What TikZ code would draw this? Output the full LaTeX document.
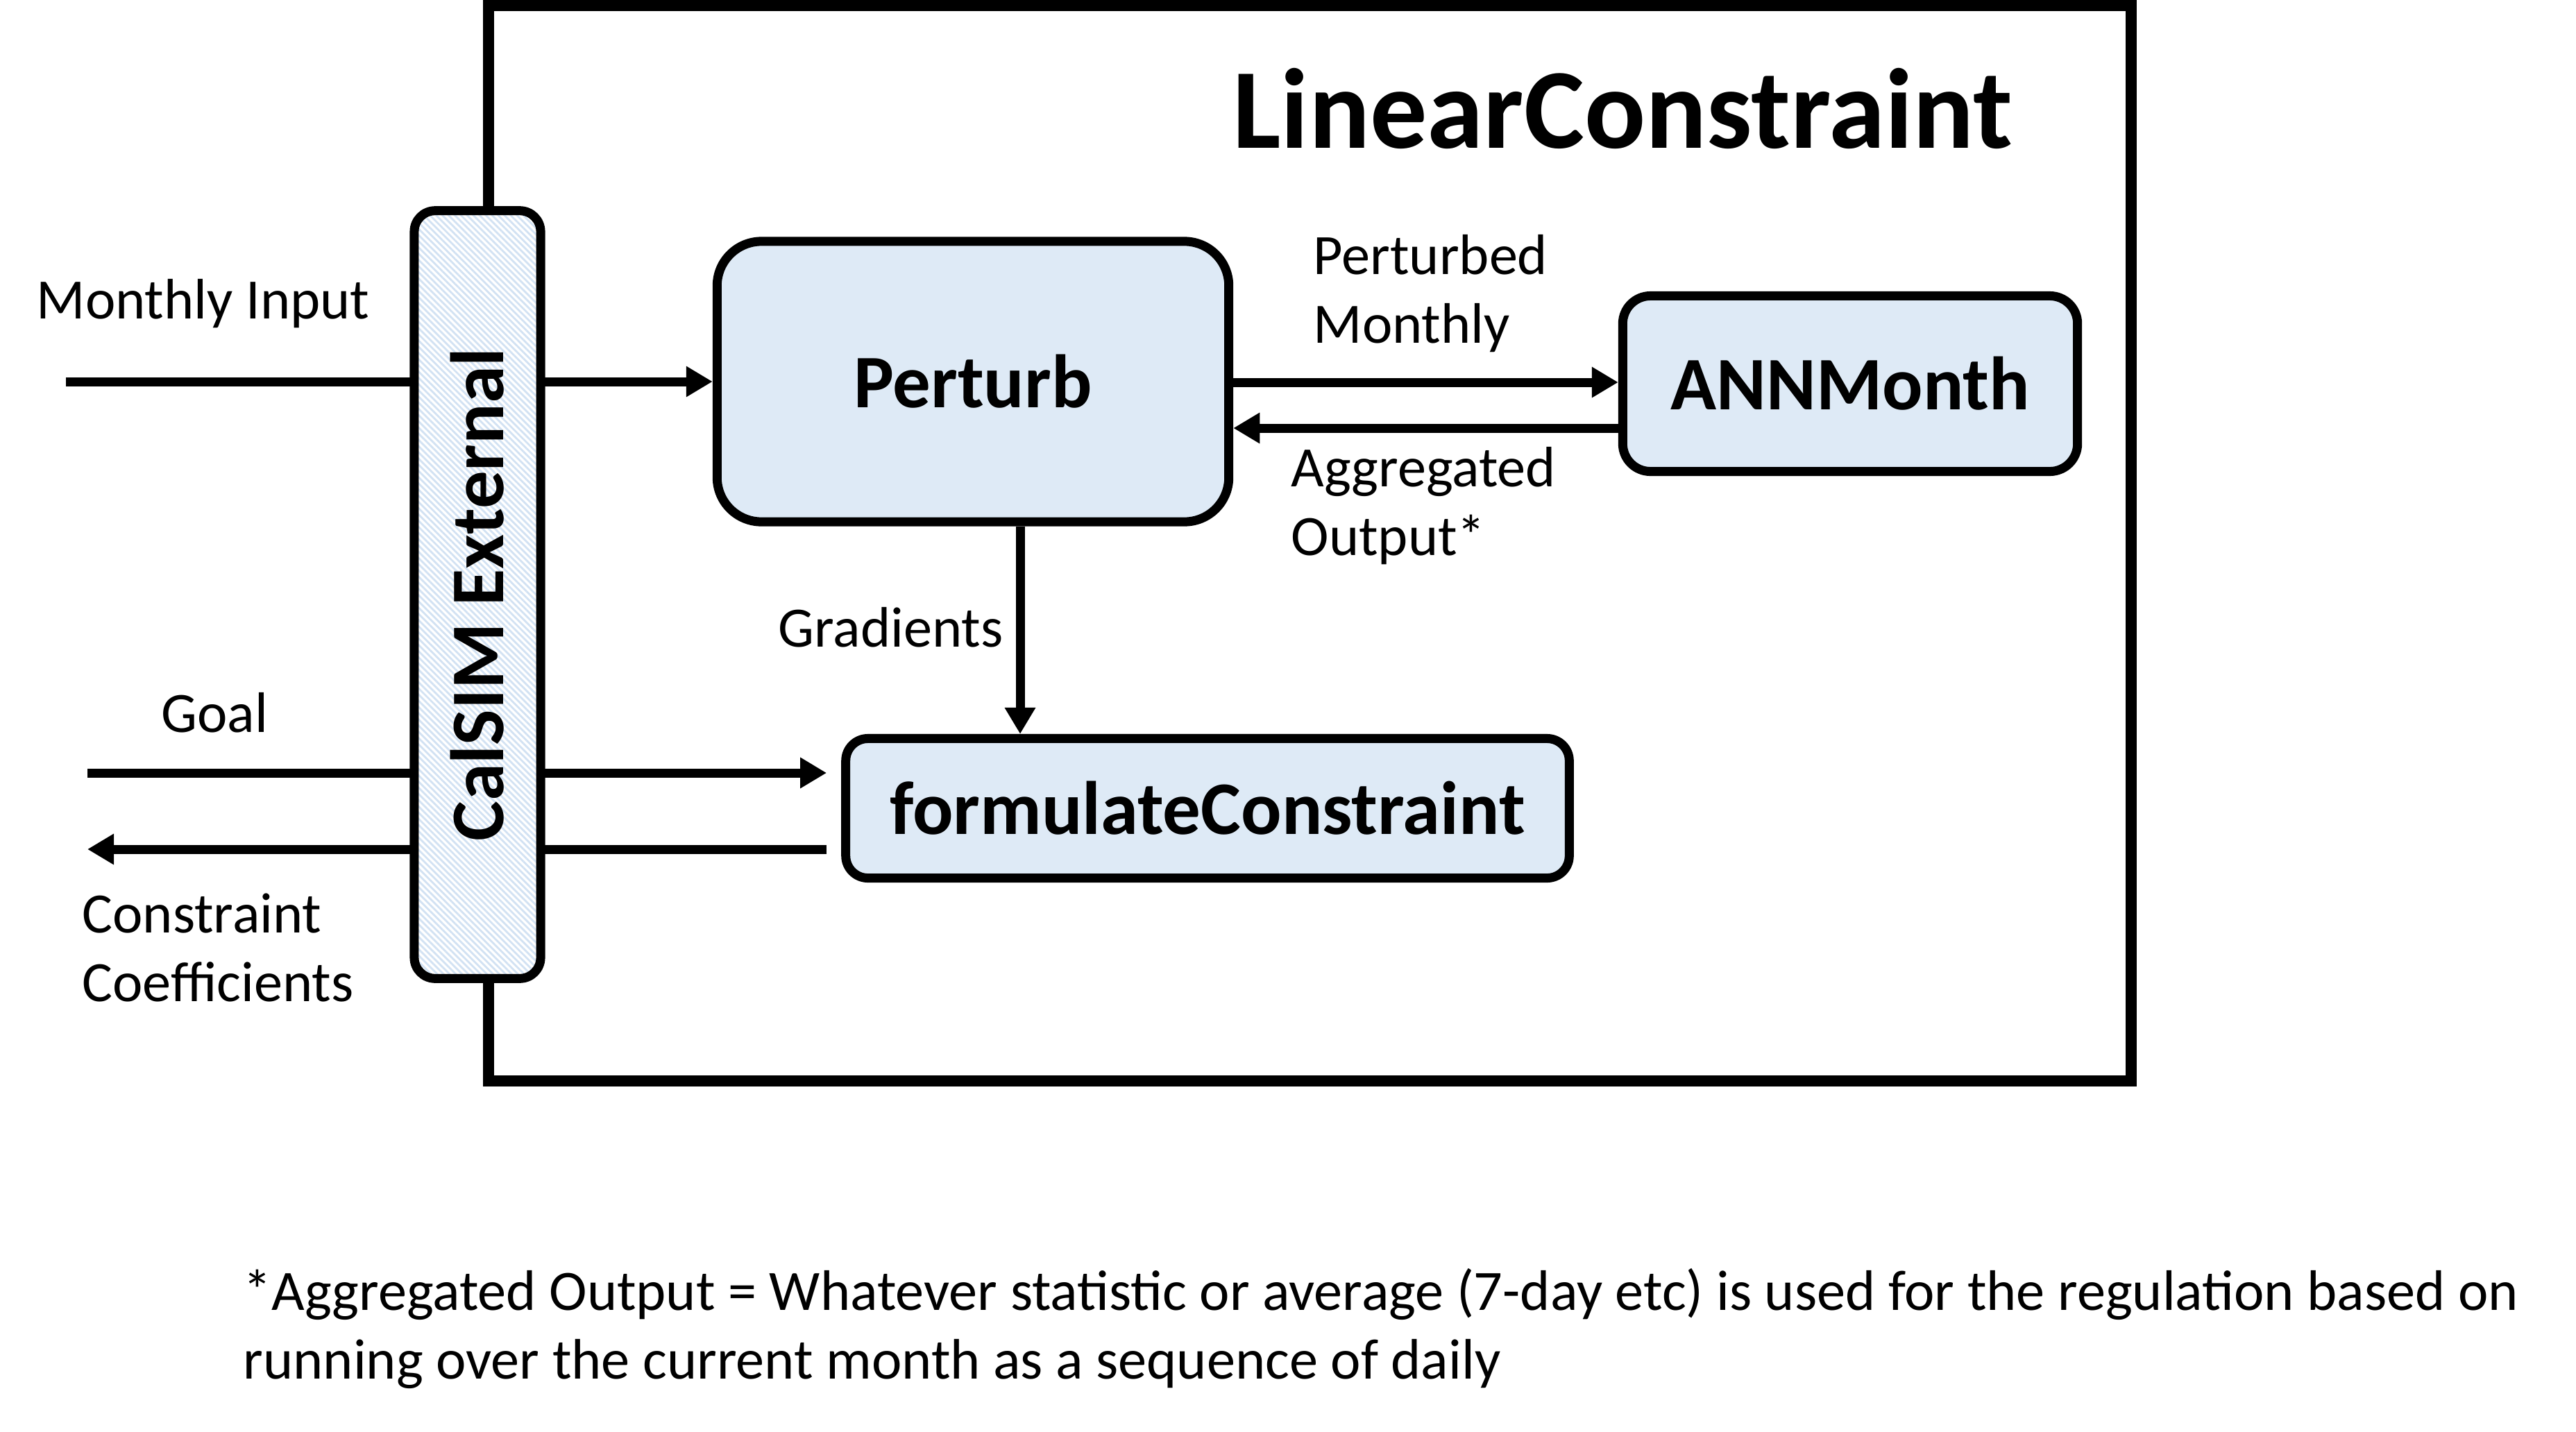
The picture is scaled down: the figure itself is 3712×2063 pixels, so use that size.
\documentclass[tikz,border=0pt]{standalone}
\usepackage{fontspec}
\setmainfont{Carlito}
\usetikzlibrary{arrows.meta,patterns.meta}
\definecolor{boxblue}{HTML}{DEEAF6}
\definecolor{stripe}{HTML}{D2E2F3}
\begin{document}
\begin{tikzpicture}[x=0.01cm,y=-0.01cm,
  procbox/.style={draw=black, line width=0.13cm, fill=boxblue, inner sep=0,
    font=\fontsize{31}{37}\selectfont\bfseries},
  lbl/.style={inner sep=0, font=\fontsize{23.4}{28.3}\selectfont, align=left},
  arr/.style={line width=0.13cm, -{Triangle[length=0.38cm,width=0.42cm]}},
  bigfont/.style={font=\fontsize{46.7}{55}\selectfont\bfseries, inner sep=0}]
\useasboundingbox (0,0) rectangle (3712,2063);

% outer frame
\node[draw=black, line width=0.16cm, minimum width=23.65cm, minimum height=15.5cm, inner sep=0] (frame) at (1887.5,783) {};
\node[bigfont] (title) at (2338,156) {LinearConstraint};

% process boxes
\node[procbox, rounded corners=0.64cm, minimum width=7.37cm, minimum height=4.04cm] (perturb) at (1402,550) {Perturb};
\node[procbox, rounded corners=0.4cm, minimum width=6.55cm, minimum height=2.53cm] (ann) at (2666,553) {ANNMonth};
\node[procbox, rounded corners=0.32cm, minimum width=10.42cm, minimum height=2.01cm] (form) at (1740,1165) {formulateConstraint};

% connectors
\coordinate (miS) at (95,550);
\draw[arr] (miS) -- (perturb.west);
\coordinate (pmY) at (0,551);
\draw[arr] (perturb.east |- pmY) -- (ann.west |- pmY);
\coordinate (agY) at (0,617);
\draw[arr] (ann.west |- agY) -- (perturb.east |- agY);
\coordinate (gX) at (1470,0);
\draw[arr] (perturb.south -| gX) -- (form.north -| gX);
\coordinate (goalS) at (126,1114);
\draw[arr, shorten >=0.21cm] (goalS) -- (form.west |- goalS);
\coordinate (coefE) at (126,1224);
\draw[arr, shorten <=0.21cm] (form.west |- coefE) -- (coefE);

% CalSIM External bar
\node[draw=black, line width=0.13cm, rounded corners=0.3cm, minimum width=1.82cm, minimum height=11.06cm, inner sep=0,
  preaction={fill=white}, pattern={Lines[angle=-45,distance=1.8pt,line width=0.8pt]}, pattern color=stripe] (calsim) at (688,857) {};
\node[rotate=90, inner sep=0, font=\fontsize{31}{37}\selectfont\bfseries] (calsimText) at (calsim.center) {CalSIM External};

% labels
\node[lbl, anchor=west] (lMI) at (52,438) {Monthly Input};
\node[lbl, anchor=west] (lGoal) at (232,1027) {Goal};
\node[lbl, anchor=west] (lCoef) at (118,1366) {Constraint\\Coefficients};
\node[lbl, anchor=west] (lPM) at (1892,423) {Perturbed\\Monthly};
\node[lbl, anchor=west] (lAO) at (1860,729) {Aggregated\\Output*};
\node[lbl, anchor=east] (lGrad) at (1446,904) {Gradients};

% footnote
\node[lbl, anchor=west] (note) at (350,1915) {*Aggregated Output = Whatever statistic or average (7-day etc) is used for the regulation based on\\running over the current month as a sequence of daily};
\end{tikzpicture}
\end{document}
